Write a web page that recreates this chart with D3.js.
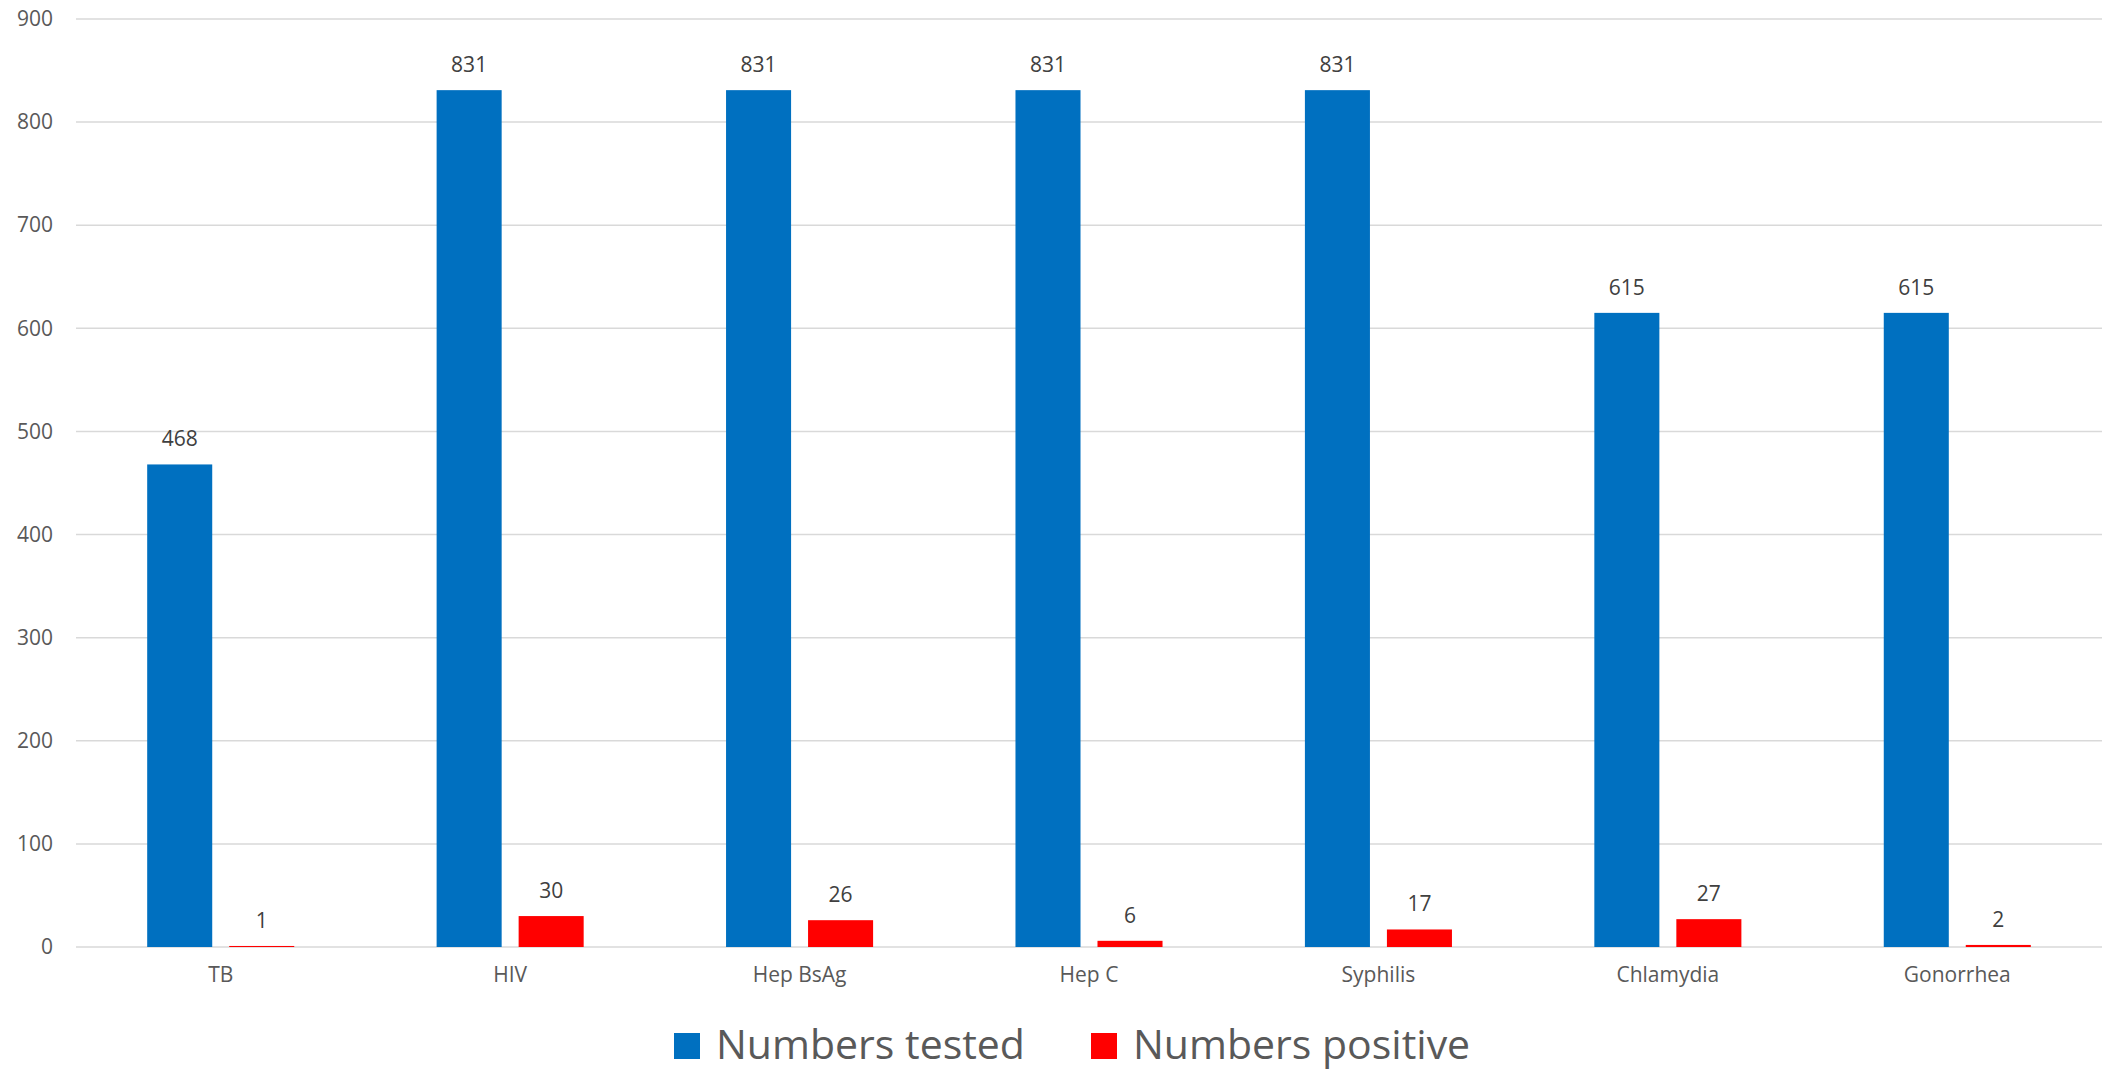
<!DOCTYPE html>
<html>
<head>
<meta charset="utf-8">
<script src="https://cdn.jsdelivr.net/npm/d3@7"></script>
<style>
  html, body { margin: 0; padding: 0; background: #fff; }
  svg { display: block; font-family: "Open Sans", sans-serif; }
</style>
</head>
<body>
<div id="chart"></div>
<script>
const categories = ["TB", "HIV", "Hep BsAg", "Hep C", "Syphilis", "Chlamydia", "Gonorrhea"];
const seriesNames = ["Numbers tested", "Numbers positive"];
const tested = [468, 831, 831, 831, 831, 615, 615];
const positive = [1, 30, 26, 6, 17, 27, 2];
const yTicks = [0, 100, 200, 300, 400, 500, 600, 700, 800, 900];
const colors = ["#0070C0", "#FF0000"];

var width = 2108,
    height = 1074;

var svg = d3.select("#chart").append("svg")
    .attr("width", width)
    .attr("height", height);

var x0 = d3.scaleBand()
    .domain(categories)
    .range([76, 2102]);

var x1 = d3.scaleBand()
    .domain(seriesNames)
    .range([0, x0.bandwidth()])
    .paddingInner(0.207)
    .paddingOuter(0.868);

var y = d3.scaleLinear()
    .domain([0, 900])
    .range([947, 19]);

// gridlines
svg.append("g")
  .selectAll("line")
  .data(yTicks)
  .join("line")
    .attr("x1", 76)
    .attr("x2", 2102)
    .attr("y1", d => y(d))
    .attr("y2", d => y(d))
    .attr("stroke", "#d9d9d9")
    .attr("stroke-width", 1.5);

// y axis labels
var yAxis = svg.append("g")
    .attr("transform", "translate(53,0)")
    .call(d3.axisLeft(y).tickValues(yTicks).tickSize(0).tickPadding(0));
yAxis.select(".domain").remove();
yAxis.selectAll("text")
    .attr("fill", "#595959")
    .style("font-size", "21px")
    .style("font-family", "'Open Sans', sans-serif");

// x axis labels
var xAxis = svg.append("g")
    .attr("transform", "translate(0,962)")
    .call(d3.axisBottom(x0).tickSize(0).tickPadding(0));
xAxis.select(".domain").remove();
xAxis.selectAll("text")
    .attr("fill", "#595959")
    .attr("dy", "0.95em")
    .style("font-size", "21px")
    .style("font-family", "'Open Sans', sans-serif");

var rows = categories.map((c, i) => ({cat: c, vals: [tested[i], positive[i]]}));

var groups = svg.append("g")
  .selectAll("g")
  .data(rows)
  .join("g")
    .attr("transform", d => `translate(${x0(d.cat)},0)`);

groups.selectAll("rect")
  .data(d => d.vals.map((v, j) => ({key: seriesNames[j], v: v, j: j})))
  .join("rect")
    .attr("x", d => x1(d.key))
    .attr("width", x1.bandwidth())
    .attr("y", d => y(d.v))
    .attr("height", d => y(0) - y(d.v))
    .attr("fill", d => colors[d.j]);

groups.selectAll("text")
  .data(d => d.vals.map((v, j) => ({key: seriesNames[j], v: v})))
  .join("text")
    .attr("x", d => x1(d.key) + x1.bandwidth() / 2)
    .attr("y", d => y(d.v) - 18)
    .attr("text-anchor", "middle")
    .attr("fill", "#404040")
    .style("font-size", "21px")
    .text(d => d.v);

// legend
var legendX = [674, 1091];
var legend = svg.append("g")
  .selectAll("g")
  .data(seriesNames)
  .join("g")
    .attr("transform", (d, i) => `translate(${legendX[i]},1033)`);

legend.append("rect")
    .attr("width", 26)
    .attr("height", 26)
    .attr("fill", (d, i) => colors[i]);

legend.append("text")
    .attr("x", 42)
    .attr("y", 26)
    .attr("fill", "#595959")
    .style("font-size", "41px")
    .text(d => d);
</script>
</body>
</html>
